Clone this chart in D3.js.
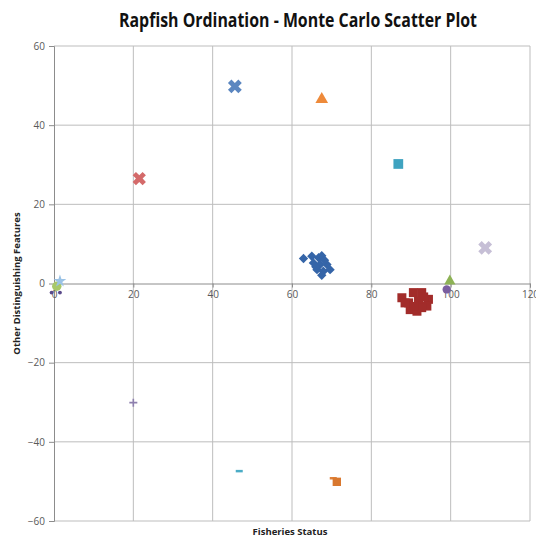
<!DOCTYPE html>
<html>
<head>
<meta charset="utf-8">
<script src="https://cdn.jsdelivr.net/npm/d3@7"></script>
<style>
  html, body { margin: 0; padding: 0; background: #fff; }
  svg { display: block; }
</style>
</head>
<body>
<svg id="chart" width="536" height="541"></svg>
<script>
// ---- data ----
const xTicks = [0, 20, 40, 60, 80, 100, 120];
const yTicks = [-60, -40, -20, 0, 20, 40, 60];

const diamondX = [62.9, 65.0, 66.7, 67.5, 65.4, 67.1, 68.8, 66.3, 67.9, 69.6, 67.5, 66.0, 68.2];
const diamondY = [6.3, 6.9, 6.5, 7.0, 5.2, 4.8, 4.8, 3.5, 3.1, 3.5, 2.1, 4.2, 5.9];

const squareX = [87.7, 90.6, 92.7, 94.4, 89.4, 91.9, 94.0, 89.8, 91.5, 92.7, 88.5, 90.8, 93.2];
const squareY = [-3.6, -2.3, -2.3, -4.0, -4.9, -4.5, -5.7, -6.6, -7.0, -6.1, -4.9, -5.8, -3.4];

const singles = [
  { name: "Anchor A", x: 99.8, y: 0.6, shape: "triangle", color: "#8DB255", size: 55 },
  { name: "Anchor B", x: 99.0, y: -1.5, shape: "circle", color: "#7A5EA0", size: 55 },
  { name: "Anchor C", x: 108.7, y: 9.0, shape: "x", color: "#C6BFD6", size: 120 },
  { name: "Anchor D", x: 45.6, y: 49.8, shape: "x", color: "#5B86C0", size: 120 },
  { name: "Anchor E", x: 67.5, y: 46.5, shape: "triangle", color: "#EE8A3A", size: 70 },
  { name: "Anchor F", x: 86.8, y: 30.2, shape: "square", color: "#3FA3C0", size: 95 },
  { name: "Anchor G", x: 21.5, y: 26.5, shape: "x", color: "#D46A6A", size: 110 },
  { name: "Anchor H", x: 20.0, y: -30.1, shape: "plus", color: "#8E80AE", size: 0 },
  { name: "Anchor I", x: 46.7, y: -47.4, shape: "dash", color: "#4BACC6", size: 0 },
  { name: "Anchor J", x: 70.4, y: -49.2, shape: "dash", color: "#E0823A", size: 0 },
  { name: "Anchor K", x: 71.3, y: -50.1, shape: "square", color: "#D9782F", size: 70 },
  { name: "Anchor L", x: 0.7, y: -0.7, shape: "circle", color: "#A8C86A", size: 70 },
  { name: "Anchor M", x: 1.5, y: 0.6, shape: "star", color: "#9BC3E6", size: 50 },
  { name: "Anchor N", x: -0.6, y: -2.3, shape: "circle", color: "#5A4A8A", size: 12 },
  { name: "Anchor O", x: 1.5, y: -2.3, shape: "circle", color: "#5A4A8A", size: 12 }
];

// ---- layout ----
const svg = d3.select("#chart");
const x = d3.scaleLinear().domain([0, 120]).range([54, 530]);
const y = d3.scaleLinear().domain([-60, 60]).range([521, 46]);

// title
svg.append("text")
  .attr("x", 298).attr("y", 27)
  .attr("text-anchor", "middle")
  .attr("font-family", "Open Sans, sans-serif")
  .attr("font-weight", "bold")
  .attr("font-size", 19)
  .attr("textLength", 358)
  .attr("lengthAdjust", "spacingAndGlyphs")
  .attr("fill", "#111")
  .text("Rapfish Ordination - Monte Carlo Scatter Plot");

// gridlines
const grid = svg.append("g");
grid.selectAll(".vg").data(xTicks.filter(d => d !== 0)).join("line")
  .attr("x1", d => x(d)).attr("x2", d => x(d))
  .attr("y1", y(60)).attr("y2", y(-60))
  .attr("stroke", "#BDBDBD").attr("stroke-width", 1);
grid.selectAll(".hg").data(yTicks.filter(d => d !== 0)).join("line")
  .attr("x1", x(0)).attr("x2", x(120))
  .attr("y1", d => y(d)).attr("y2", d => y(d))
  .attr("stroke", "#BDBDBD").attr("stroke-width", 1);

// y axis at x=0
const yAxis = d3.axisLeft(y).tickValues(yTicks).tickSize(5).tickPadding(4);
const gy = svg.append("g").attr("transform", `translate(${x(0)},0)`).call(yAxis);
gy.select(".domain").attr("stroke", "#8C8C8C");
gy.selectAll(".tick line").attr("stroke", "#8C8C8C");
gy.selectAll(".tick text").attr("font-family", "Open Sans, sans-serif")
  .attr("font-size", 10).attr("fill", "#595959");

// x axis at y=0
const xAxis = d3.axisBottom(x).tickValues(xTicks).tickSize(4).tickPadding(3);
const gx = svg.append("g").attr("transform", `translate(0,${y(0)})`).call(xAxis);
gx.select(".domain").attr("stroke", "#8C8C8C");
gx.selectAll(".tick line").attr("stroke", "#8C8C8C");
gx.selectAll(".tick text").attr("font-family", "Open Sans, sans-serif")
  .attr("font-size", 10).attr("fill", "#595959");

// axis titles
svg.append("text")
  .attr("x", 290).attr("y", 535)
  .attr("text-anchor", "middle")
  .attr("font-family", "Open Sans, sans-serif")
  .attr("font-weight", "bold").attr("font-size", 9.5)
  .attr("fill", "#222")
  .text("Fisheries Status");
svg.append("text")
  .attr("transform", `translate(20,${(y(60) + y(-60)) / 2}) rotate(-90)`)
  .attr("text-anchor", "middle")
  .attr("font-family", "Open Sans, sans-serif")
  .attr("font-weight", "bold").attr("font-size", 9.5)
  .attr("fill", "#222")
  .text("Other Distinguishing Features");

// marks
const marks = svg.append("g");
const diamond = d3.symbol().type(d3.symbolSquare).size(44);
marks.selectAll(".dia").data(diamondX.map((v, i) => [v, diamondY[i]])).join("path")
  .attr("d", diamond)
  .attr("transform", d => `translate(${x(d[0])},${y(d[1])}) rotate(45)`)
  .attr("fill", "#3565A8");

marks.selectAll(".sq").data(squareX.map((v, i) => [v, squareY[i]])).join("rect")
  .attr("x", d => x(d[0]) - 4.5).attr("y", d => y(d[1]) - 4.5)
  .attr("width", 9).attr("height", 9)
  .attr("fill", "#A22C2A");

const shapeMap = {
  triangle: d3.symbolTriangle,
  circle: d3.symbolCircle,
  square: d3.symbolSquare,
  star: d3.symbolStar
};
singles.forEach(s => {
  const cx = x(s.x), cy = y(s.y);
  if (shapeMap[s.shape]) {
    marks.append("path")
      .attr("d", d3.symbol().type(shapeMap[s.shape]).size(s.size)())
      .attr("transform", `translate(${cx},${cy})`)
      .attr("fill", s.color);
  } else if (s.shape === "x") {
    marks.append("path")
      .attr("d", d3.symbol().type(d3.symbolCross).size(s.size)())
      .attr("transform", `translate(${cx},${cy}) rotate(45)`)
      .attr("fill", s.color);
  } else if (s.shape === "plus") {
    marks.append("path")
      .attr("d", `M${cx - 4},${cy}H${cx + 4}M${cx},${cy - 4}V${cy + 4}`)
      .attr("stroke", s.color).attr("stroke-width", 1.6);
  } else if (s.shape === "dash") {
    marks.append("path")
      .attr("d", `M${cx - 3.5},${cy}H${cx + 3.5}`)
      .attr("stroke", s.color).attr("stroke-width", 2.5);
  }
});
</script>
</body>
</html>
